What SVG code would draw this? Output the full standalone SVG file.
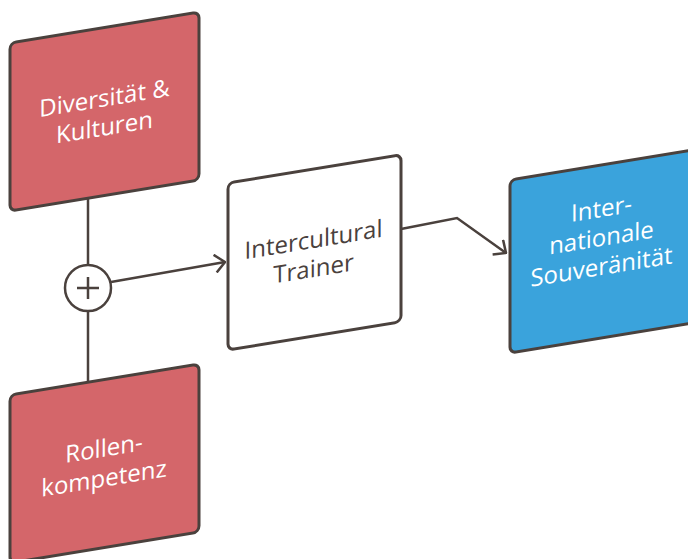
<svg xmlns="http://www.w3.org/2000/svg" width="688" height="559" viewBox="0 0 688 559">
<style>
.box{stroke:#4a413d;stroke-width:3}
.red{fill:#d4666a}
.blue{fill:#3aa3dc}
.white{fill:#ffffff}
.t{font-family:"Open Sans","Noto Sans",sans-serif;font-size:24px;text-anchor:middle}
.tw{fill:#ffffff}
.td{fill:#4a413d}
.c{fill:none;stroke:#4a413d;stroke-width:2.5}
</style>
<defs>
<marker id="arr" markerUnits="userSpaceOnUse" viewBox="0 -10 12 20" markerWidth="12" markerHeight="20" refX="11" refY="0" orient="auto">
<path d="M1,-9 L11,0 L1,9" fill="none" stroke="#4a413d" stroke-width="2.5"/>
</marker>
</defs>
<rect width="688" height="559" fill="#ffffff"/>
<g id="connectors">
<line class="c" x1="88" y1="197" x2="88" y2="265"/>
<line class="c" x1="88" y1="311" x2="88" y2="382"/>
<circle class="c" cx="88" cy="288" r="23"/>
<path class="c" d="M77,288 H99 M88,277 V299"/>
<path class="c" d="M111,282 L225,262" marker-end="url(#arr)"/>
<path class="c" d="M401,229 L457,218 L506,253" marker-end="url(#arr)"/>
</g>
<g id="diversitaet" transform="translate(10,43) skewY(-9.3)">
<rect class="box red" x="0" y="0" width="189" height="168" rx="6"/>
<text class="t tw" x="94.5" y="79">Diversität &amp;</text>
<text class="t tw" x="94.5" y="108">Kulturen</text>
</g>
<g id="rollen" transform="translate(10,395) skewY(-9.3)">
<rect class="box red" x="0" y="0" width="189" height="168" rx="6"/>
<text class="t tw" x="94" y="77">Rollen-</text>
<text class="t tw" x="94" y="107">kompetenz</text>
</g>
<g id="trainer" transform="translate(228,183) skewY(-9.3)">
<rect class="box white" x="0" y="0" width="173" height="167" rx="6"/>
<text class="t td" x="85.5" y="79">Intercultural</text>
<text class="t td" x="85.5" y="108">Trainer</text>
</g>
<g id="souveraenitaet" transform="translate(510,180) skewY(-9.3)">
<rect class="box blue" x="0" y="0" width="189" height="173" rx="6"/>
<text class="t tw" x="91.5" y="52">Inter-</text>
<text class="t tw" x="91.5" y="81">nationale</text>
<text class="t tw" x="91.5" y="110">Souveränität</text>
</g>
</svg>
